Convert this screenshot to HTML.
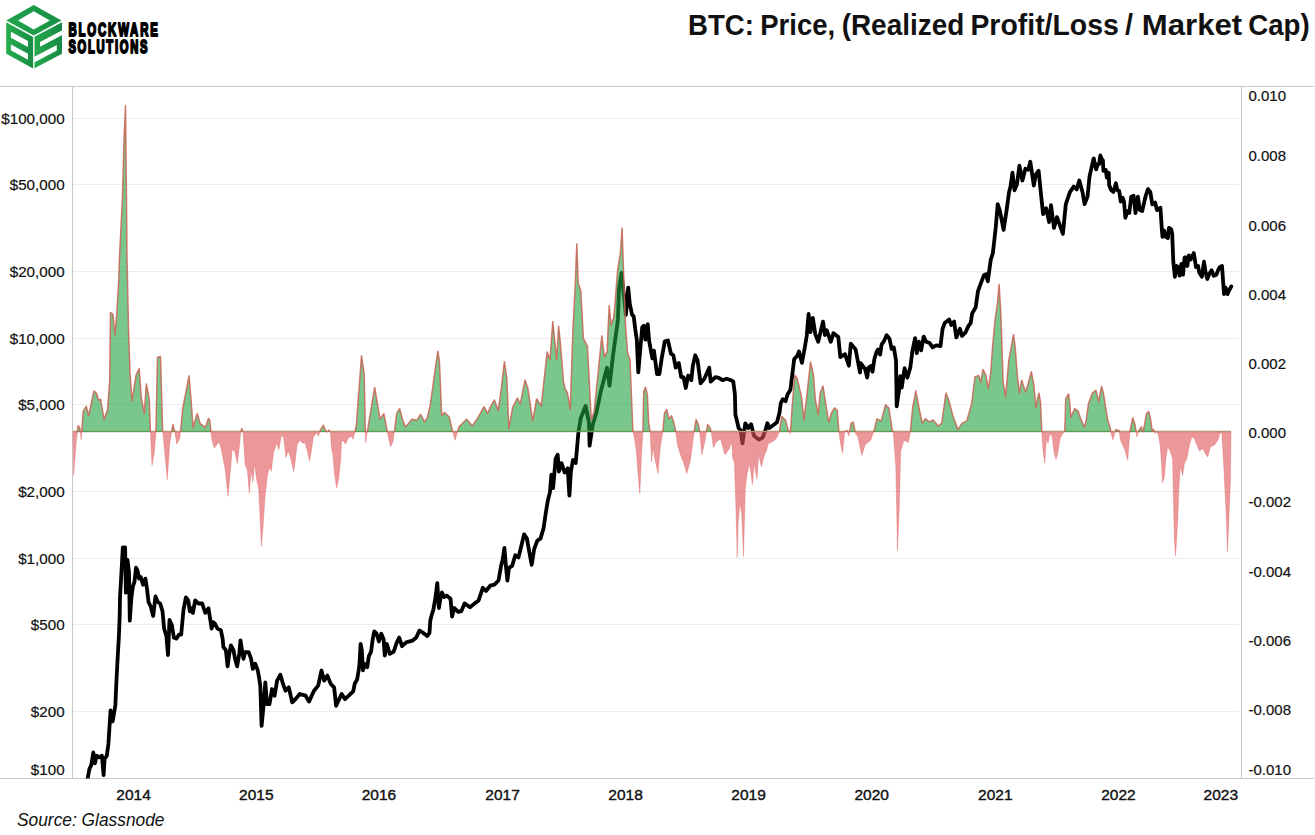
<!DOCTYPE html>
<html><head><meta charset="utf-8"><title>BTC: Price, (Realized Profit/Loss / Market Cap)</title>
<style>html,body{margin:0;padding:0;background:#fff;width:1315px;height:835px;overflow:hidden}svg{display:block}</style>
</head><body>
<svg width="1315" height="835" viewBox="0 0 1315 835">
<defs>
<clipPath id="plot"><rect x="72.5" y="86.5" width="1169.0" height="692.0"/></clipPath>
<clipPath id="pos"><rect x="0" y="0" width="1315" height="432.0"/></clipPath>
<clipPath id="neg"><rect x="0" y="432.0" width="1315" height="403.0"/></clipPath>
<linearGradient id="gl" x1="6" y1="0" x2="33" y2="0" gradientUnits="userSpaceOnUse"><stop offset="0" stop-color="#27ae4f"/><stop offset="1" stop-color="#178c44"/></linearGradient>
<linearGradient id="gr" x1="34" y1="0" x2="62" y2="0" gradientUnits="userSpaceOnUse"><stop offset="0" stop-color="#24aa4d"/><stop offset="1" stop-color="#168a44"/></linearGradient>
<linearGradient id="gt" x1="6" y1="35" x2="61" y2="5" gradientUnits="userSpaceOnUse"><stop offset="0" stop-color="#22a54c"/><stop offset="1" stop-color="#178f46"/></linearGradient>
</defs>
<g>
<path fill="url(#gt)" fill-rule="evenodd" d="M33.7,4.9 L61.5,20.6 L33.7,35.4 L6.3,20.6 Z M33.7,11.2 L49.9,20.6 L33.7,29.6 L18,20.6 Z"/>
<path fill="url(#gl)" fill-rule="evenodd" d="M6.20,22.20 L33.10,36.90 L33.10,68.50 L6.20,53.80 Z M10.91,31.77 L27.99,41.11 L27.99,47.11 L10.91,37.77 Z M10.91,44.47 L27.99,53.81 L27.99,59.71 L10.91,50.37 Z"/>
<path fill="url(#gr)" d="M34.50,36.70 L62.00,22.21 L62.00,53.81 L34.50,68.30 Z"/>
<path fill="#fff" d="M40.00,41.90 L62.27,30.16 L62.27,35.06 L40.00,46.80 Z M34.23,56.84 L56.78,44.96 L56.78,50.56 L34.23,62.44 Z"/>
</g>
<g font-family="Liberation Sans" font-weight="bold" fill="#000" stroke="#000" stroke-width="2" stroke-linejoin="round">
<text transform="translate(68.4,36.2) scale(0.6,1)" font-size="19" letter-spacing="3.08">BLOCKWARE</text>
<text transform="translate(68.4,52.9) scale(0.59,1)" font-size="19" letter-spacing="2.9">SOLUTIONS</text>
</g>
<g font-family="Liberation Sans" font-weight="bold" font-size="30" fill="#111">
<text transform="translate(688.06,35.4) scale(0.9194,1)">BTC:</text>
<text transform="translate(760.27,35.4) scale(0.9167,1)">Price,</text>
<text transform="translate(841.64,35.4) scale(0.9313,1)">(Realized</text>
<text transform="translate(970.41,35.4) scale(0.9474,1)">Profit/Loss</text>
<text transform="translate(1125.10,35.4) scale(0.9625,1)">/</text>
<text transform="translate(1141.83,35.4) scale(1.0372,1)">Market</text>
<text transform="translate(1248.18,35.4) scale(0.9234,1)">Cap)</text>
</g>
<line x1="72.5" x2="1239.6" y1="118.5" y2="118.5" stroke="#ececec" stroke-width="1"/>
<line x1="72.5" x2="1239.6" y1="184.5" y2="184.5" stroke="#ececec" stroke-width="1"/>
<line x1="72.5" x2="1239.6" y1="271.5" y2="271.5" stroke="#ececec" stroke-width="1"/>
<line x1="72.5" x2="1239.6" y1="338.5" y2="338.5" stroke="#ececec" stroke-width="1"/>
<line x1="72.5" x2="1239.6" y1="404.5" y2="404.5" stroke="#ececec" stroke-width="1"/>
<line x1="72.5" x2="1239.6" y1="491.5" y2="491.5" stroke="#ececec" stroke-width="1"/>
<line x1="72.5" x2="1239.6" y1="558.5" y2="558.5" stroke="#ececec" stroke-width="1"/>
<line x1="72.5" x2="1239.6" y1="624.5" y2="624.5" stroke="#ececec" stroke-width="1"/>
<line x1="72.5" x2="1239.6" y1="711.5" y2="711.5" stroke="#ececec" stroke-width="1"/>
<line x1="0" x2="1314" y1="86.5" y2="86.5" stroke="#c8c8c8" stroke-width="1"/>
<line x1="0" x2="1314" y1="778.5" y2="778.5" stroke="#c8c8c8" stroke-width="1"/>
<line x1="72.5" x2="72.5" y1="86.5" y2="778.5" stroke="#c8c8c8" stroke-width="1"/>
<line x1="1241.5" x2="1241.5" y1="86.5" y2="778.5" stroke="#c8c8c8" stroke-width="1"/>
<g clip-path="url(#plot)"><path d="M84.0,800.0 L87.9,777.3 L89.5,768.7 L91.2,765.4 L93.3,752.5 L94.9,763.3 L96.6,755.7 L99.2,757.3 L101.9,755.7 L103.6,775.1 L104.6,759.0 L106.8,755.7 L108.4,743.9 L110.0,719.1 L110.6,710.5 L112.7,721.3 L114.3,711.6 L115.4,705.1 L116.0,690.0 L117.3,664.3 L118.9,636.2 L119.7,616.0 L120.0,597.3 L121.2,577.0 L122.8,547.5 L125.1,547.5 L125.9,592.6 L127.5,560.0 L129.0,572.4 L129.8,620.7 L131.4,597.3 L132.9,586.4 L134.5,581.7 L136.0,567.7 L137.6,570.8 L139.1,578.6 L140.7,577.0 L143.0,584.8 L145.4,578.6 L146.9,588.0 L148.5,602.0 L150.8,606.7 L153.2,616.0 L155.5,596.5 L157.8,602.0 L160.2,603.5 L162.5,611.3 L164.1,628.5 L166.4,636.2 L168.0,655.0 L169.5,619.9 L171.9,625.3 L173.9,637.8 L176.5,638.6 L178.9,634.7 L181.2,634.7 L183.5,609.8 L185.9,597.3 L188.2,600.4 L189.8,611.3 L191.3,608.2 L192.9,612.9 L195.2,600.4 L198.3,603.5 L202.2,603.5 L205.3,612.9 L208.5,608.2 L211.6,628.5 L213.1,622.2 L215.0,623.8 L217.5,628.6 L220.9,630.3 L222.6,638.7 L223.4,647.0 L225.9,650.4 L227.6,666.3 L229.3,653.8 L230.9,645.4 L233.5,650.4 L235.1,658.8 L237.1,666.3 L239.3,653.8 L240.5,640.3 L241.8,648.7 L243.5,658.8 L245.2,652.1 L248.6,652.1 L251.1,658.8 L252.8,668.9 L255.3,663.8 L257.8,670.5 L259.0,677.2 L260.3,685.6 L261.6,725.9 L263.7,704.1 L265.3,682.3 L267.0,704.1 L269.5,704.1 L272.0,689.0 L274.6,695.7 L277.1,680.6 L280.4,674.7 L283.0,684.0 L285.5,690.7 L288.8,687.3 L292.2,702.4 L295.5,699.1 L299.7,694.0 L305.6,695.7 L309.0,701.6 L314.0,690.7 L318.2,685.6 L321.5,670.5 L324.1,680.6 L327.4,675.6 L330.8,684.0 L334.1,687.3 L336.1,705.8 L339.2,699.1 L341.7,694.0 L345.0,699.1 L349.3,695.2 L353.2,691.3 L354.8,683.5 L357.1,679.6 L358.7,670.3 L359.5,664.1 L360.6,643.8 L361.8,650.0 L363.0,670.3 L364.9,664.1 L367.2,667.2 L368.8,656.3 L371.1,651.6 L372.7,639.2 L374.3,631.4 L376.6,633.7 L378.9,641.5 L381.3,633.7 L383.6,639.2 L384.8,655.5 L386.7,643.8 L389.8,653.9 L393.7,651.6 L396.8,642.3 L399.2,637.6 L402.0,646.2 L406.2,642.3 L412.4,640.7 L416.3,637.6 L419.4,630.6 L423.3,632.9 L427.2,636.0 L429.5,632.9 L430.3,620.5 L431.9,614.3 L433.4,609.6 L435.3,598.7 L437.3,583.1 L438.9,608.0 L440.4,598.7 L442.0,592.5 L444.0,597.1 L446.6,595.6 L450.5,598.7 L452.1,616.6 L454.4,608.0 L458.3,611.9 L461.4,611.1 L464.6,603.4 L470.0,607.2 L474.4,603.6 L478.6,600.4 L482.8,587.8 L486.0,591.0 L490.2,585.7 L494.4,584.7 L498.5,580.5 L501.1,565.8 L502.7,559.5 L504.4,548.0 L505.9,565.8 L507.4,580.5 L509.0,567.9 L512.2,565.8 L515.3,555.3 L518.5,557.4 L521.6,544.8 L524.1,534.4 L526.9,538.6 L529.0,550.1 L531.7,564.8 L534.2,549.0 L537.3,540.6 L540.5,538.6 L543.6,528.1 L545.7,513.4 L547.8,500.8 L549.9,492.4 L551.4,474.6 L553.1,488.2 L555.6,458.9 L557.7,454.7 L558.9,471.5 L561.5,463.1 L564.6,472.5 L567.7,468.3 L569.4,495.6 L570.9,471.5 L573.0,459.9 L575.7,463.1 L578.4,432.4 L580.8,418.0 L585.6,406.0 L589.0,422.8 L589.6,445.6 L592.7,425.0 L596.3,413.0 L601.0,390.5 L607.0,367.8 L609.5,385.7 L613.0,355.8 L617.9,319.9 L619.0,288.7 L621.5,273.0 L625.9,314.8 L628.2,287.6 L629.8,303.9 L632.1,314.8 L633.7,316.4 L635.2,328.8 L636.8,339.7 L638.3,372.4 L639.9,353.7 L642.2,327.3 L643.8,325.7 L645.4,339.7 L647.7,324.2 L649.2,341.3 L652.4,358.4 L653.9,350.6 L657.0,374.0 L659.4,374.0 L661.7,358.4 L664.8,341.3 L667.9,340.5 L671.0,353.7 L673.4,355.3 L675.7,367.7 L678.8,363.1 L681.2,377.1 L683.5,377.1 L685.8,388.0 L688.2,375.5 L691.3,380.2 L692.8,366.2 L695.2,355.3 L697.5,360.0 L700.6,383.3 L704.5,378.6 L709.2,367.7 L710.7,381.7 L715.4,377.1 L718.9,377.9 L722.4,380.2 L726.7,378.7 L731.0,380.2 L733.3,381.7 L734.9,394.2 L735.4,414.6 L737.3,422.3 L738.6,428.1 L740.5,430.0 L742.5,443.4 L745.3,423.3 L748.2,428.1 L751.1,424.2 L754.0,435.7 L758.8,439.6 L762.6,437.6 L765.5,430.0 L767.4,423.3 L769.3,428.1 L773.1,425.2 L777.0,422.3 L779.5,412.7 L780.8,403.1 L782.7,399.3 L785.6,401.2 L787.5,394.5 L790.4,389.7 L792.3,374.4 L794.2,359.0 L797.1,356.2 L799.0,351.4 L801.9,362.9 L804.8,347.5 L806.7,336.0 L808.6,314.0 L810.5,332.2 L812.8,317.8 L815.3,334.1 L818.2,341.8 L823.0,321.6 L824.9,335.1 L826.8,330.3 L830.7,341.8 L833.5,333.1 L838.3,337.0 L840.3,357.1 L845.0,354.2 L848.9,365.7 L850.8,343.7 L855.6,349.4 L860.0,372.5 L860.7,363.2 L862.9,366.1 L865.1,369.0 L867.2,377.6 L868.6,367.5 L870.8,366.1 L872.5,371.8 L874.4,358.9 L876.6,351.7 L878.0,349.6 L880.1,354.6 L881.6,344.5 L883.7,341.7 L886.6,335.2 L889.5,338.8 L891.6,348.9 L893.8,347.4 L896.0,360.3 L896.7,406.3 L898.8,392.0 L900.3,376.1 L901.7,387.6 L904.6,368.2 L907.4,377.6 L910.3,367.5 L912.5,350.3 L915.1,338.1 L916.8,353.2 L918.9,341.7 L921.1,350.3 L923.7,336.6 L926.1,341.7 L929.7,343.1 L932.6,347.4 L936.2,345.3 L940.5,346.0 L942.6,328.7 L944.8,323.0 L949.1,319.4 L951.3,325.1 L954.1,321.6 L956.3,337.4 L959.9,328.7 L962.0,335.9 L965.6,332.3 L968.5,325.9 L970.7,323.0 L972.1,313.6 L975.7,307.2 L978.0,291.1 L980.9,283.2 L983.9,275.3 L985.9,274.3 L987.8,281.3 L990.8,259.5 L992.8,253.6 L995.7,227.9 L997.7,204.2 L999.7,210.2 L1001.7,220.0 L1003.6,229.9 L1006.6,210.2 L1009.0,192.4 L1010.5,186.5 L1012.5,172.6 L1014.5,190.4 L1016.9,184.5 L1019.4,165.7 L1022.4,180.5 L1025.4,168.7 L1028.3,169.7 L1030.3,161.8 L1033.8,185.5 L1035.8,174.6 L1038.6,170.7 L1041.2,196.3 L1043.1,214.1 L1046.1,208.2 L1049.1,222.0 L1051.0,205.2 L1054.0,227.9 L1057.0,217.1 L1062.9,233.9 L1065.8,204.2 L1069.8,192.4 L1073.7,186.5 L1076.7,189.4 L1079.3,180.5 L1082.6,192.4 L1084.6,204.2 L1087.6,196.3 L1089.5,176.6 L1093.5,158.8 L1093.8,158.4 L1094.8,164.2 L1096.2,169.4 L1097.7,164.2 L1099.1,164.2 L1100.3,155.5 L1102.0,159.4 L1102.9,160.3 L1103.4,170.9 L1105.8,169.9 L1106.8,177.6 L1108.7,172.8 L1109.2,185.2 L1111.1,190.0 L1113.5,191.9 L1115.9,183.3 L1117.3,190.0 L1119.2,191.0 L1120.7,201.5 L1122.6,197.7 L1124.0,201.5 L1125.4,217.8 L1127.4,211.1 L1129.3,213.0 L1131.2,196.7 L1133.6,195.8 L1135.5,213.0 L1137.9,196.7 L1139.8,210.1 L1142.2,211.1 L1144.1,202.5 L1146.0,194.8 L1148.0,189.1 L1150.3,191.9 L1152.3,204.4 L1155.1,202.5 L1157.0,210.1 L1160.4,207.7 L1162.0,231.6 L1162.5,236.9 L1164.2,230.5 L1165.8,236.9 L1167.9,238.0 L1169.0,227.8 L1171.2,229.4 L1172.2,233.7 L1173.3,261.7 L1174.9,276.8 L1176.6,266.0 L1178.2,267.1 L1179.6,275.7 L1181.4,263.9 L1183.0,274.7 L1184.6,257.4 L1186.3,257.4 L1187.3,266.0 L1188.9,255.3 L1190.6,259.6 L1193.8,253.1 L1196.0,267.1 L1198.1,266.0 L1199.2,272.5 L1201.9,276.8 L1204.0,261.7 L1205.6,272.5 L1207.3,279.0 L1209.4,273.6 L1211.6,270.3 L1213.7,275.7 L1216.4,274.7 L1218.0,270.3 L1219.7,267.1 L1222.0,266.0 L1223.4,285.4 L1224.0,294.1 L1225.6,287.6 L1227.4,294.1 L1229.4,289.7 L1231.3,286.5" fill="none" stroke="#000" stroke-width="3.8" stroke-linejoin="round" stroke-linecap="round"/></g>
<line x1="73" x2="1231" y1="431.5" y2="431.5" stroke="rgb(185,150,120)" stroke-width="1.3"/>
<path d="M73.0,431.8 L73.6,475.5 L76.0,444.0 L78.1,425.7 L79.7,427.7 L81.2,440.0 L83.2,411.4 L86.2,406.3 L88.7,415.5 L94.0,391.0 L96.4,393.0 L98.5,400.2 L100.5,399.2 L104.2,419.6 L107.6,409.4 L109.7,380.9 L110.5,312.7 L112.9,314.2 L115.0,335.0 L116.5,317.0 L118.6,284.0 L119.5,257.0 L122.5,197.0 L124.0,140.0 L125.5,105.5 L126.4,191.0 L127.0,257.0 L128.5,329.0 L130.0,372.7 L132.0,401.2 L136.1,374.8 L139.2,368.7 L141.2,397.2 L144.3,413.5 L146.3,384.0 L149.3,399.2 L150.4,431.8 L152.0,465.4 L154.4,452.1 L155.9,431.8 L157.5,357.5 L160.5,356.5 L162.6,429.7 L167.3,479.6 L169.7,444.0 L172.8,424.6 L174.8,431.8 L176.8,444.0 L179.9,437.9 L182.9,407.3 L186.0,392.0 L189.0,375.8 L191.0,399.2 L193.1,427.7 L197.2,413.5 L200.2,423.6 L205.3,427.7 L208.4,418.5 L209.7,420.0 L210.9,431.7 L212.0,440.2 L214.3,448.0 L216.7,444.9 L219.0,441.8 L220.6,446.5 L222.9,457.4 L225.2,469.8 L228.0,496.3 L229.9,476.0 L232.2,449.6 L234.6,451.1 L237.4,463.6 L239.2,448.0 L240.5,434.0 L241.7,428.6 L243.1,432.5 L245.2,465.1 L247.3,469.8 L249.4,493.2 L250.9,469.8 L252.9,482.3 L254.5,463.6 L257.1,482.3 L258.7,488.5 L261.4,546.1 L262.9,529.0 L264.9,497.8 L267.3,476.0 L269.6,466.7 L271.2,471.4 L273.5,452.7 L276.6,443.3 L278.9,449.6 L281.3,435.6 L283.6,437.1 L285.9,457.4 L288.3,451.1 L290.0,455.8 L291.2,460.2 L293.6,471.7 L295.1,462.2 L297.0,444.9 L299.9,440.1 L302.2,443.0 L305.1,443.0 L307.5,451.6 L309.4,461.2 L311.4,450.7 L313.3,437.2 L316.6,432.5 L318.5,436.3 L320.5,429.6 L323.3,425.3 L325.2,429.6 L327.2,432.5 L328.9,430.1 L330.5,432.5 L331.5,448.7 L332.9,454.5 L334.4,472.7 L336.7,488.0 L338.7,478.5 L340.6,460.2 L341.5,441.1 L343.5,441.1 L345.4,444.0 L348.2,438.2 L351.1,436.3 L353.0,439.2 L355.0,431.7 L356.4,424.8 L361.5,355.8 L364.2,374.3 L365.5,442.8 L369.4,419.0 L374.7,387.4 L380.0,419.0 L383.9,413.8 L387.9,434.9 L390.5,446.7 L392.9,442.2 L394.8,428.8 L396.7,413.4 L399.6,408.7 L402.5,419.2 L405.3,426.9 L408.2,424.0 L412.0,419.2 L416.8,420.2 L420.7,414.4 L424.5,422.0 L427.4,417.3 L430.2,405.8 L433.1,384.7 L436.0,363.6 L437.9,351.2 L439.4,361.7 L441.7,415.4 L444.6,412.5 L449.4,417.3 L452.3,430.7 L455.1,440.3 L459.0,426.9 L466.6,419.2 L472.4,425.9 L478.1,417.3 L483.9,406.7 L487.7,413.4 L491.5,404.8 L494.4,400.0 L498.2,410.6 L501.1,390.5 L504.4,361.7 L506.9,379.0 L508.8,428.8 L512.6,407.7 L517.4,398.1 L520.3,403.9 L525.0,380.0 L527.9,388.5 L532.7,421.1 L536.6,399.0 L541.3,405.8 L547.1,352.1 L550.0,359.8 L552.8,321.5 L556.7,359.8 L558.6,326.3 L560.5,344.5 L563.4,380.9 L565.0,388.4 L567.6,393.7 L570.3,409.5 L572.9,330.5 L575.0,291.0 L576.8,243.7 L578.2,283.0 L580.8,291.0 L583.4,338.4 L587.4,346.3 L591.3,420.0 L594.0,412.0 L597.9,375.3 L601.8,335.8 L604.5,356.8 L607.1,351.6 L609.2,305.5 L611.0,325.3 L613.7,317.4 L615.0,304.2 L617.6,270.0 L620.3,254.2 L622.1,227.9 L623.4,267.4 L625.5,325.3 L627.5,352.5 L630.0,360.0 L632.9,431.5 L634.3,437.5 L636.5,451.9 L637.9,472.0 L639.8,493.6 L641.5,454.8 L642.9,431.5 L643.7,391.5 L645.5,387.2 L647.3,394.4 L648.7,423.1 L650.1,431.5 L651.6,462.0 L653.0,447.6 L655.2,460.5 L658.0,473.5 L660.2,447.6 L662.8,431.5 L664.5,413.1 L666.7,409.5 L668.8,418.8 L671.7,415.9 L673.9,423.1 L675.7,431.5 L677.4,444.7 L681.0,456.2 L683.9,463.4 L686.8,473.5 L690.4,460.5 L693.3,437.5 L696.1,419.5 L698.3,424.6 L699.7,431.5 L701.9,454.8 L704.8,441.8 L707.6,424.6 L709.8,427.4 L711.2,431.5 L713.4,447.6 L716.3,441.8 L720.6,439.0 L724.9,454.8 L729.2,449.0 L731.8,441.5 L732.7,457.7 L734.5,463.1 L736.3,520.5 L737.2,557.3 L738.1,524.1 L739.9,502.6 L741.7,513.3 L743.5,556.4 L745.3,488.2 L747.1,473.9 L749.7,463.1 L752.4,484.6 L754.2,463.1 L756.9,479.2 L758.7,454.1 L761.4,466.7 L764.1,455.9 L765.9,452.3 L768.6,443.3 L773.1,441.5 L776.7,438.0 L779.4,431.7 L781.8,416.6 L785.6,420.4 L787.5,428.1 L790.4,433.8 L792.3,405.0 L794.8,375.3 L797.1,378.2 L799.0,385.9 L801.9,399.3 L803.8,420.4 L806.7,397.4 L810.5,361.9 L813.4,374.4 L815.3,399.3 L818.2,414.6 L820.1,393.5 L823.0,385.9 L825.9,405.0 L828.8,422.3 L831.6,412.7 L834.5,407.9 L837.2,410.2 L838.9,431.7 L840.4,442.5 L842.5,453.3 L844.7,431.7 L846.9,430.6 L849.0,436.0 L851.2,423.1 L853.3,422.0 L855.5,433.9 L857.6,436.0 L861.9,455.4 L865.2,444.7 L870.6,440.3 L873.8,431.7 L877.0,418.8 L881.3,420.9 L885.6,404.8 L888.9,408.0 L892.1,429.6 L893.2,431.7 L895.8,466.2 L897.5,550.3 L899.2,509.3 L900.7,451.1 L904.0,440.3 L908.3,442.5 L910.4,431.7 L912.6,408.0 L915.8,390.8 L919.0,408.0 L922.3,423.1 L925.5,418.8 L929.8,422.0 L933.1,419.9 L938.4,426.3 L941.7,423.1 L946.0,392.9 L949.2,401.6 L952.5,414.5 L957.8,429.6 L962.0,423.3 L966.8,420.9 L971.6,404.0 L975.1,376.6 L978.7,375.4 L980.7,382.5 L983.0,369.4 L985.9,375.4 L988.3,388.5 L990.7,373.0 L992.6,346.6 L995.0,320.3 L997.4,303.5 L999.1,284.4 L1000.8,313.1 L1003.2,382.5 L1005.6,396.9 L1008.7,361.0 L1011.8,344.2 L1013.5,334.7 L1015.1,346.6 L1017.5,377.8 L1019.4,393.3 L1021.8,380.2 L1025.4,392.1 L1027.8,385.0 L1031.4,371.8 L1033.8,385.0 L1036.1,408.0 L1037.8,397.7 L1039.0,393.2 L1040.5,402.3 L1041.8,431.5 L1043.0,450.1 L1044.7,463.1 L1046.4,438.7 L1048.1,443.2 L1049.8,433.6 L1052.1,436.4 L1054.3,453.5 L1056.0,459.2 L1057.7,453.5 L1060.0,438.7 L1062.9,433.0 L1064.8,431.5 L1065.7,398.9 L1068.6,393.8 L1069.7,402.3 L1070.8,417.1 L1074.8,408.6 L1078.2,411.4 L1080.5,418.2 L1084.5,427.3 L1086.2,420.5 L1088.5,403.4 L1092.4,393.2 L1095.9,390.4 L1098.7,401.7 L1101.5,386.4 L1103.2,392.1 L1105.5,406.8 L1107.8,420.5 L1110.1,427.3 L1111.2,434.1 L1112.9,439.8 L1115.8,429.6 L1119.2,430.7 L1120.3,439.8 L1124.9,450.1 L1127.7,460.3 L1130.0,431.5 L1132.8,417.7 L1135.1,425.0 L1136.8,437.0 L1138.5,431.5 L1141.3,426.8 L1143.1,432.4 L1146.5,413.7 L1148.7,411.4 L1150.4,418.2 L1152.2,431.5 L1153.4,429.2 L1155.0,433.4 L1156.7,431.7 L1158.4,435.1 L1160.1,445.1 L1161.4,461.9 L1162.6,482.9 L1164.3,477.0 L1165.9,458.6 L1167.6,446.8 L1170.1,451.0 L1172.6,458.6 L1174.3,537.4 L1175.5,555.8 L1177.7,520.6 L1178.8,490.4 L1180.2,466.9 L1182.7,475.3 L1184.4,463.6 L1186.9,458.6 L1189.4,445.1 L1191.9,436.8 L1194.4,438.4 L1196.9,445.1 L1199.5,451.0 L1202.8,448.5 L1205.3,453.5 L1207.8,456.9 L1210.4,446.8 L1214.5,445.1 L1217.9,440.1 L1219.6,434.3 L1221.8,431.7 L1223.8,466.9 L1226.3,515.6 L1227.5,551.6 L1228.8,520.6 L1230.5,478.7 L1231.0,431.7 L1231.0,432.0 L73.0,432.0 Z" fill="rgba(33,161,65,0.6)" clip-path="url(#pos)"/>
<path d="M73.0,431.8 L73.6,475.5 L76.0,444.0 L78.1,425.7 L79.7,427.7 L81.2,440.0 L83.2,411.4 L86.2,406.3 L88.7,415.5 L94.0,391.0 L96.4,393.0 L98.5,400.2 L100.5,399.2 L104.2,419.6 L107.6,409.4 L109.7,380.9 L110.5,312.7 L112.9,314.2 L115.0,335.0 L116.5,317.0 L118.6,284.0 L119.5,257.0 L122.5,197.0 L124.0,140.0 L125.5,105.5 L126.4,191.0 L127.0,257.0 L128.5,329.0 L130.0,372.7 L132.0,401.2 L136.1,374.8 L139.2,368.7 L141.2,397.2 L144.3,413.5 L146.3,384.0 L149.3,399.2 L150.4,431.8 L152.0,465.4 L154.4,452.1 L155.9,431.8 L157.5,357.5 L160.5,356.5 L162.6,429.7 L167.3,479.6 L169.7,444.0 L172.8,424.6 L174.8,431.8 L176.8,444.0 L179.9,437.9 L182.9,407.3 L186.0,392.0 L189.0,375.8 L191.0,399.2 L193.1,427.7 L197.2,413.5 L200.2,423.6 L205.3,427.7 L208.4,418.5 L209.7,420.0 L210.9,431.7 L212.0,440.2 L214.3,448.0 L216.7,444.9 L219.0,441.8 L220.6,446.5 L222.9,457.4 L225.2,469.8 L228.0,496.3 L229.9,476.0 L232.2,449.6 L234.6,451.1 L237.4,463.6 L239.2,448.0 L240.5,434.0 L241.7,428.6 L243.1,432.5 L245.2,465.1 L247.3,469.8 L249.4,493.2 L250.9,469.8 L252.9,482.3 L254.5,463.6 L257.1,482.3 L258.7,488.5 L261.4,546.1 L262.9,529.0 L264.9,497.8 L267.3,476.0 L269.6,466.7 L271.2,471.4 L273.5,452.7 L276.6,443.3 L278.9,449.6 L281.3,435.6 L283.6,437.1 L285.9,457.4 L288.3,451.1 L290.0,455.8 L291.2,460.2 L293.6,471.7 L295.1,462.2 L297.0,444.9 L299.9,440.1 L302.2,443.0 L305.1,443.0 L307.5,451.6 L309.4,461.2 L311.4,450.7 L313.3,437.2 L316.6,432.5 L318.5,436.3 L320.5,429.6 L323.3,425.3 L325.2,429.6 L327.2,432.5 L328.9,430.1 L330.5,432.5 L331.5,448.7 L332.9,454.5 L334.4,472.7 L336.7,488.0 L338.7,478.5 L340.6,460.2 L341.5,441.1 L343.5,441.1 L345.4,444.0 L348.2,438.2 L351.1,436.3 L353.0,439.2 L355.0,431.7 L356.4,424.8 L361.5,355.8 L364.2,374.3 L365.5,442.8 L369.4,419.0 L374.7,387.4 L380.0,419.0 L383.9,413.8 L387.9,434.9 L390.5,446.7 L392.9,442.2 L394.8,428.8 L396.7,413.4 L399.6,408.7 L402.5,419.2 L405.3,426.9 L408.2,424.0 L412.0,419.2 L416.8,420.2 L420.7,414.4 L424.5,422.0 L427.4,417.3 L430.2,405.8 L433.1,384.7 L436.0,363.6 L437.9,351.2 L439.4,361.7 L441.7,415.4 L444.6,412.5 L449.4,417.3 L452.3,430.7 L455.1,440.3 L459.0,426.9 L466.6,419.2 L472.4,425.9 L478.1,417.3 L483.9,406.7 L487.7,413.4 L491.5,404.8 L494.4,400.0 L498.2,410.6 L501.1,390.5 L504.4,361.7 L506.9,379.0 L508.8,428.8 L512.6,407.7 L517.4,398.1 L520.3,403.9 L525.0,380.0 L527.9,388.5 L532.7,421.1 L536.6,399.0 L541.3,405.8 L547.1,352.1 L550.0,359.8 L552.8,321.5 L556.7,359.8 L558.6,326.3 L560.5,344.5 L563.4,380.9 L565.0,388.4 L567.6,393.7 L570.3,409.5 L572.9,330.5 L575.0,291.0 L576.8,243.7 L578.2,283.0 L580.8,291.0 L583.4,338.4 L587.4,346.3 L591.3,420.0 L594.0,412.0 L597.9,375.3 L601.8,335.8 L604.5,356.8 L607.1,351.6 L609.2,305.5 L611.0,325.3 L613.7,317.4 L615.0,304.2 L617.6,270.0 L620.3,254.2 L622.1,227.9 L623.4,267.4 L625.5,325.3 L627.5,352.5 L630.0,360.0 L632.9,431.5 L634.3,437.5 L636.5,451.9 L637.9,472.0 L639.8,493.6 L641.5,454.8 L642.9,431.5 L643.7,391.5 L645.5,387.2 L647.3,394.4 L648.7,423.1 L650.1,431.5 L651.6,462.0 L653.0,447.6 L655.2,460.5 L658.0,473.5 L660.2,447.6 L662.8,431.5 L664.5,413.1 L666.7,409.5 L668.8,418.8 L671.7,415.9 L673.9,423.1 L675.7,431.5 L677.4,444.7 L681.0,456.2 L683.9,463.4 L686.8,473.5 L690.4,460.5 L693.3,437.5 L696.1,419.5 L698.3,424.6 L699.7,431.5 L701.9,454.8 L704.8,441.8 L707.6,424.6 L709.8,427.4 L711.2,431.5 L713.4,447.6 L716.3,441.8 L720.6,439.0 L724.9,454.8 L729.2,449.0 L731.8,441.5 L732.7,457.7 L734.5,463.1 L736.3,520.5 L737.2,557.3 L738.1,524.1 L739.9,502.6 L741.7,513.3 L743.5,556.4 L745.3,488.2 L747.1,473.9 L749.7,463.1 L752.4,484.6 L754.2,463.1 L756.9,479.2 L758.7,454.1 L761.4,466.7 L764.1,455.9 L765.9,452.3 L768.6,443.3 L773.1,441.5 L776.7,438.0 L779.4,431.7 L781.8,416.6 L785.6,420.4 L787.5,428.1 L790.4,433.8 L792.3,405.0 L794.8,375.3 L797.1,378.2 L799.0,385.9 L801.9,399.3 L803.8,420.4 L806.7,397.4 L810.5,361.9 L813.4,374.4 L815.3,399.3 L818.2,414.6 L820.1,393.5 L823.0,385.9 L825.9,405.0 L828.8,422.3 L831.6,412.7 L834.5,407.9 L837.2,410.2 L838.9,431.7 L840.4,442.5 L842.5,453.3 L844.7,431.7 L846.9,430.6 L849.0,436.0 L851.2,423.1 L853.3,422.0 L855.5,433.9 L857.6,436.0 L861.9,455.4 L865.2,444.7 L870.6,440.3 L873.8,431.7 L877.0,418.8 L881.3,420.9 L885.6,404.8 L888.9,408.0 L892.1,429.6 L893.2,431.7 L895.8,466.2 L897.5,550.3 L899.2,509.3 L900.7,451.1 L904.0,440.3 L908.3,442.5 L910.4,431.7 L912.6,408.0 L915.8,390.8 L919.0,408.0 L922.3,423.1 L925.5,418.8 L929.8,422.0 L933.1,419.9 L938.4,426.3 L941.7,423.1 L946.0,392.9 L949.2,401.6 L952.5,414.5 L957.8,429.6 L962.0,423.3 L966.8,420.9 L971.6,404.0 L975.1,376.6 L978.7,375.4 L980.7,382.5 L983.0,369.4 L985.9,375.4 L988.3,388.5 L990.7,373.0 L992.6,346.6 L995.0,320.3 L997.4,303.5 L999.1,284.4 L1000.8,313.1 L1003.2,382.5 L1005.6,396.9 L1008.7,361.0 L1011.8,344.2 L1013.5,334.7 L1015.1,346.6 L1017.5,377.8 L1019.4,393.3 L1021.8,380.2 L1025.4,392.1 L1027.8,385.0 L1031.4,371.8 L1033.8,385.0 L1036.1,408.0 L1037.8,397.7 L1039.0,393.2 L1040.5,402.3 L1041.8,431.5 L1043.0,450.1 L1044.7,463.1 L1046.4,438.7 L1048.1,443.2 L1049.8,433.6 L1052.1,436.4 L1054.3,453.5 L1056.0,459.2 L1057.7,453.5 L1060.0,438.7 L1062.9,433.0 L1064.8,431.5 L1065.7,398.9 L1068.6,393.8 L1069.7,402.3 L1070.8,417.1 L1074.8,408.6 L1078.2,411.4 L1080.5,418.2 L1084.5,427.3 L1086.2,420.5 L1088.5,403.4 L1092.4,393.2 L1095.9,390.4 L1098.7,401.7 L1101.5,386.4 L1103.2,392.1 L1105.5,406.8 L1107.8,420.5 L1110.1,427.3 L1111.2,434.1 L1112.9,439.8 L1115.8,429.6 L1119.2,430.7 L1120.3,439.8 L1124.9,450.1 L1127.7,460.3 L1130.0,431.5 L1132.8,417.7 L1135.1,425.0 L1136.8,437.0 L1138.5,431.5 L1141.3,426.8 L1143.1,432.4 L1146.5,413.7 L1148.7,411.4 L1150.4,418.2 L1152.2,431.5 L1153.4,429.2 L1155.0,433.4 L1156.7,431.7 L1158.4,435.1 L1160.1,445.1 L1161.4,461.9 L1162.6,482.9 L1164.3,477.0 L1165.9,458.6 L1167.6,446.8 L1170.1,451.0 L1172.6,458.6 L1174.3,537.4 L1175.5,555.8 L1177.7,520.6 L1178.8,490.4 L1180.2,466.9 L1182.7,475.3 L1184.4,463.6 L1186.9,458.6 L1189.4,445.1 L1191.9,436.8 L1194.4,438.4 L1196.9,445.1 L1199.5,451.0 L1202.8,448.5 L1205.3,453.5 L1207.8,456.9 L1210.4,446.8 L1214.5,445.1 L1217.9,440.1 L1219.6,434.3 L1221.8,431.7 L1223.8,466.9 L1226.3,515.6 L1227.5,551.6 L1228.8,520.6 L1230.5,478.7 L1231.0,431.7 L1231.0,432.0 L73.0,432.0 Z" fill="rgba(224,82,85,0.6)" clip-path="url(#neg)"/>
<path d="M73.0,431.8 L73.6,475.5 L76.0,444.0 L78.1,425.7 L79.7,427.7 L81.2,440.0 L83.2,411.4 L86.2,406.3 L88.7,415.5 L94.0,391.0 L96.4,393.0 L98.5,400.2 L100.5,399.2 L104.2,419.6 L107.6,409.4 L109.7,380.9 L110.5,312.7 L112.9,314.2 L115.0,335.0 L116.5,317.0 L118.6,284.0 L119.5,257.0 L122.5,197.0 L124.0,140.0 L125.5,105.5 L126.4,191.0 L127.0,257.0 L128.5,329.0 L130.0,372.7 L132.0,401.2 L136.1,374.8 L139.2,368.7 L141.2,397.2 L144.3,413.5 L146.3,384.0 L149.3,399.2 L150.4,431.8 L152.0,465.4 L154.4,452.1 L155.9,431.8 L157.5,357.5 L160.5,356.5 L162.6,429.7 L167.3,479.6 L169.7,444.0 L172.8,424.6 L174.8,431.8 L176.8,444.0 L179.9,437.9 L182.9,407.3 L186.0,392.0 L189.0,375.8 L191.0,399.2 L193.1,427.7 L197.2,413.5 L200.2,423.6 L205.3,427.7 L208.4,418.5 L209.7,420.0 L210.9,431.7 L212.0,440.2 L214.3,448.0 L216.7,444.9 L219.0,441.8 L220.6,446.5 L222.9,457.4 L225.2,469.8 L228.0,496.3 L229.9,476.0 L232.2,449.6 L234.6,451.1 L237.4,463.6 L239.2,448.0 L240.5,434.0 L241.7,428.6 L243.1,432.5 L245.2,465.1 L247.3,469.8 L249.4,493.2 L250.9,469.8 L252.9,482.3 L254.5,463.6 L257.1,482.3 L258.7,488.5 L261.4,546.1 L262.9,529.0 L264.9,497.8 L267.3,476.0 L269.6,466.7 L271.2,471.4 L273.5,452.7 L276.6,443.3 L278.9,449.6 L281.3,435.6 L283.6,437.1 L285.9,457.4 L288.3,451.1 L290.0,455.8 L291.2,460.2 L293.6,471.7 L295.1,462.2 L297.0,444.9 L299.9,440.1 L302.2,443.0 L305.1,443.0 L307.5,451.6 L309.4,461.2 L311.4,450.7 L313.3,437.2 L316.6,432.5 L318.5,436.3 L320.5,429.6 L323.3,425.3 L325.2,429.6 L327.2,432.5 L328.9,430.1 L330.5,432.5 L331.5,448.7 L332.9,454.5 L334.4,472.7 L336.7,488.0 L338.7,478.5 L340.6,460.2 L341.5,441.1 L343.5,441.1 L345.4,444.0 L348.2,438.2 L351.1,436.3 L353.0,439.2 L355.0,431.7 L356.4,424.8 L361.5,355.8 L364.2,374.3 L365.5,442.8 L369.4,419.0 L374.7,387.4 L380.0,419.0 L383.9,413.8 L387.9,434.9 L390.5,446.7 L392.9,442.2 L394.8,428.8 L396.7,413.4 L399.6,408.7 L402.5,419.2 L405.3,426.9 L408.2,424.0 L412.0,419.2 L416.8,420.2 L420.7,414.4 L424.5,422.0 L427.4,417.3 L430.2,405.8 L433.1,384.7 L436.0,363.6 L437.9,351.2 L439.4,361.7 L441.7,415.4 L444.6,412.5 L449.4,417.3 L452.3,430.7 L455.1,440.3 L459.0,426.9 L466.6,419.2 L472.4,425.9 L478.1,417.3 L483.9,406.7 L487.7,413.4 L491.5,404.8 L494.4,400.0 L498.2,410.6 L501.1,390.5 L504.4,361.7 L506.9,379.0 L508.8,428.8 L512.6,407.7 L517.4,398.1 L520.3,403.9 L525.0,380.0 L527.9,388.5 L532.7,421.1 L536.6,399.0 L541.3,405.8 L547.1,352.1 L550.0,359.8 L552.8,321.5 L556.7,359.8 L558.6,326.3 L560.5,344.5 L563.4,380.9 L565.0,388.4 L567.6,393.7 L570.3,409.5 L572.9,330.5 L575.0,291.0 L576.8,243.7 L578.2,283.0 L580.8,291.0 L583.4,338.4 L587.4,346.3 L591.3,420.0 L594.0,412.0 L597.9,375.3 L601.8,335.8 L604.5,356.8 L607.1,351.6 L609.2,305.5 L611.0,325.3 L613.7,317.4 L615.0,304.2 L617.6,270.0 L620.3,254.2 L622.1,227.9 L623.4,267.4 L625.5,325.3 L627.5,352.5 L630.0,360.0 L632.9,431.5 L634.3,437.5 L636.5,451.9 L637.9,472.0 L639.8,493.6 L641.5,454.8 L642.9,431.5 L643.7,391.5 L645.5,387.2 L647.3,394.4 L648.7,423.1 L650.1,431.5 L651.6,462.0 L653.0,447.6 L655.2,460.5 L658.0,473.5 L660.2,447.6 L662.8,431.5 L664.5,413.1 L666.7,409.5 L668.8,418.8 L671.7,415.9 L673.9,423.1 L675.7,431.5 L677.4,444.7 L681.0,456.2 L683.9,463.4 L686.8,473.5 L690.4,460.5 L693.3,437.5 L696.1,419.5 L698.3,424.6 L699.7,431.5 L701.9,454.8 L704.8,441.8 L707.6,424.6 L709.8,427.4 L711.2,431.5 L713.4,447.6 L716.3,441.8 L720.6,439.0 L724.9,454.8 L729.2,449.0 L731.8,441.5 L732.7,457.7 L734.5,463.1 L736.3,520.5 L737.2,557.3 L738.1,524.1 L739.9,502.6 L741.7,513.3 L743.5,556.4 L745.3,488.2 L747.1,473.9 L749.7,463.1 L752.4,484.6 L754.2,463.1 L756.9,479.2 L758.7,454.1 L761.4,466.7 L764.1,455.9 L765.9,452.3 L768.6,443.3 L773.1,441.5 L776.7,438.0 L779.4,431.7 L781.8,416.6 L785.6,420.4 L787.5,428.1 L790.4,433.8 L792.3,405.0 L794.8,375.3 L797.1,378.2 L799.0,385.9 L801.9,399.3 L803.8,420.4 L806.7,397.4 L810.5,361.9 L813.4,374.4 L815.3,399.3 L818.2,414.6 L820.1,393.5 L823.0,385.9 L825.9,405.0 L828.8,422.3 L831.6,412.7 L834.5,407.9 L837.2,410.2 L838.9,431.7 L840.4,442.5 L842.5,453.3 L844.7,431.7 L846.9,430.6 L849.0,436.0 L851.2,423.1 L853.3,422.0 L855.5,433.9 L857.6,436.0 L861.9,455.4 L865.2,444.7 L870.6,440.3 L873.8,431.7 L877.0,418.8 L881.3,420.9 L885.6,404.8 L888.9,408.0 L892.1,429.6 L893.2,431.7 L895.8,466.2 L897.5,550.3 L899.2,509.3 L900.7,451.1 L904.0,440.3 L908.3,442.5 L910.4,431.7 L912.6,408.0 L915.8,390.8 L919.0,408.0 L922.3,423.1 L925.5,418.8 L929.8,422.0 L933.1,419.9 L938.4,426.3 L941.7,423.1 L946.0,392.9 L949.2,401.6 L952.5,414.5 L957.8,429.6 L962.0,423.3 L966.8,420.9 L971.6,404.0 L975.1,376.6 L978.7,375.4 L980.7,382.5 L983.0,369.4 L985.9,375.4 L988.3,388.5 L990.7,373.0 L992.6,346.6 L995.0,320.3 L997.4,303.5 L999.1,284.4 L1000.8,313.1 L1003.2,382.5 L1005.6,396.9 L1008.7,361.0 L1011.8,344.2 L1013.5,334.7 L1015.1,346.6 L1017.5,377.8 L1019.4,393.3 L1021.8,380.2 L1025.4,392.1 L1027.8,385.0 L1031.4,371.8 L1033.8,385.0 L1036.1,408.0 L1037.8,397.7 L1039.0,393.2 L1040.5,402.3 L1041.8,431.5 L1043.0,450.1 L1044.7,463.1 L1046.4,438.7 L1048.1,443.2 L1049.8,433.6 L1052.1,436.4 L1054.3,453.5 L1056.0,459.2 L1057.7,453.5 L1060.0,438.7 L1062.9,433.0 L1064.8,431.5 L1065.7,398.9 L1068.6,393.8 L1069.7,402.3 L1070.8,417.1 L1074.8,408.6 L1078.2,411.4 L1080.5,418.2 L1084.5,427.3 L1086.2,420.5 L1088.5,403.4 L1092.4,393.2 L1095.9,390.4 L1098.7,401.7 L1101.5,386.4 L1103.2,392.1 L1105.5,406.8 L1107.8,420.5 L1110.1,427.3 L1111.2,434.1 L1112.9,439.8 L1115.8,429.6 L1119.2,430.7 L1120.3,439.8 L1124.9,450.1 L1127.7,460.3 L1130.0,431.5 L1132.8,417.7 L1135.1,425.0 L1136.8,437.0 L1138.5,431.5 L1141.3,426.8 L1143.1,432.4 L1146.5,413.7 L1148.7,411.4 L1150.4,418.2 L1152.2,431.5 L1153.4,429.2 L1155.0,433.4 L1156.7,431.7 L1158.4,435.1 L1160.1,445.1 L1161.4,461.9 L1162.6,482.9 L1164.3,477.0 L1165.9,458.6 L1167.6,446.8 L1170.1,451.0 L1172.6,458.6 L1174.3,537.4 L1175.5,555.8 L1177.7,520.6 L1178.8,490.4 L1180.2,466.9 L1182.7,475.3 L1184.4,463.6 L1186.9,458.6 L1189.4,445.1 L1191.9,436.8 L1194.4,438.4 L1196.9,445.1 L1199.5,451.0 L1202.8,448.5 L1205.3,453.5 L1207.8,456.9 L1210.4,446.8 L1214.5,445.1 L1217.9,440.1 L1219.6,434.3 L1221.8,431.7 L1223.8,466.9 L1226.3,515.6 L1227.5,551.6 L1228.8,520.6 L1230.5,478.7 L1231.0,431.7" fill="none" stroke="rgba(200,100,85,0.85)" stroke-width="1.5" stroke-linejoin="round" clip-path="url(#pos)"/>
<path d="M73.0,431.8 L73.6,475.5 L76.0,444.0 L78.1,425.7 L79.7,427.7 L81.2,440.0 L83.2,411.4 L86.2,406.3 L88.7,415.5 L94.0,391.0 L96.4,393.0 L98.5,400.2 L100.5,399.2 L104.2,419.6 L107.6,409.4 L109.7,380.9 L110.5,312.7 L112.9,314.2 L115.0,335.0 L116.5,317.0 L118.6,284.0 L119.5,257.0 L122.5,197.0 L124.0,140.0 L125.5,105.5 L126.4,191.0 L127.0,257.0 L128.5,329.0 L130.0,372.7 L132.0,401.2 L136.1,374.8 L139.2,368.7 L141.2,397.2 L144.3,413.5 L146.3,384.0 L149.3,399.2 L150.4,431.8 L152.0,465.4 L154.4,452.1 L155.9,431.8 L157.5,357.5 L160.5,356.5 L162.6,429.7 L167.3,479.6 L169.7,444.0 L172.8,424.6 L174.8,431.8 L176.8,444.0 L179.9,437.9 L182.9,407.3 L186.0,392.0 L189.0,375.8 L191.0,399.2 L193.1,427.7 L197.2,413.5 L200.2,423.6 L205.3,427.7 L208.4,418.5 L209.7,420.0 L210.9,431.7 L212.0,440.2 L214.3,448.0 L216.7,444.9 L219.0,441.8 L220.6,446.5 L222.9,457.4 L225.2,469.8 L228.0,496.3 L229.9,476.0 L232.2,449.6 L234.6,451.1 L237.4,463.6 L239.2,448.0 L240.5,434.0 L241.7,428.6 L243.1,432.5 L245.2,465.1 L247.3,469.8 L249.4,493.2 L250.9,469.8 L252.9,482.3 L254.5,463.6 L257.1,482.3 L258.7,488.5 L261.4,546.1 L262.9,529.0 L264.9,497.8 L267.3,476.0 L269.6,466.7 L271.2,471.4 L273.5,452.7 L276.6,443.3 L278.9,449.6 L281.3,435.6 L283.6,437.1 L285.9,457.4 L288.3,451.1 L290.0,455.8 L291.2,460.2 L293.6,471.7 L295.1,462.2 L297.0,444.9 L299.9,440.1 L302.2,443.0 L305.1,443.0 L307.5,451.6 L309.4,461.2 L311.4,450.7 L313.3,437.2 L316.6,432.5 L318.5,436.3 L320.5,429.6 L323.3,425.3 L325.2,429.6 L327.2,432.5 L328.9,430.1 L330.5,432.5 L331.5,448.7 L332.9,454.5 L334.4,472.7 L336.7,488.0 L338.7,478.5 L340.6,460.2 L341.5,441.1 L343.5,441.1 L345.4,444.0 L348.2,438.2 L351.1,436.3 L353.0,439.2 L355.0,431.7 L356.4,424.8 L361.5,355.8 L364.2,374.3 L365.5,442.8 L369.4,419.0 L374.7,387.4 L380.0,419.0 L383.9,413.8 L387.9,434.9 L390.5,446.7 L392.9,442.2 L394.8,428.8 L396.7,413.4 L399.6,408.7 L402.5,419.2 L405.3,426.9 L408.2,424.0 L412.0,419.2 L416.8,420.2 L420.7,414.4 L424.5,422.0 L427.4,417.3 L430.2,405.8 L433.1,384.7 L436.0,363.6 L437.9,351.2 L439.4,361.7 L441.7,415.4 L444.6,412.5 L449.4,417.3 L452.3,430.7 L455.1,440.3 L459.0,426.9 L466.6,419.2 L472.4,425.9 L478.1,417.3 L483.9,406.7 L487.7,413.4 L491.5,404.8 L494.4,400.0 L498.2,410.6 L501.1,390.5 L504.4,361.7 L506.9,379.0 L508.8,428.8 L512.6,407.7 L517.4,398.1 L520.3,403.9 L525.0,380.0 L527.9,388.5 L532.7,421.1 L536.6,399.0 L541.3,405.8 L547.1,352.1 L550.0,359.8 L552.8,321.5 L556.7,359.8 L558.6,326.3 L560.5,344.5 L563.4,380.9 L565.0,388.4 L567.6,393.7 L570.3,409.5 L572.9,330.5 L575.0,291.0 L576.8,243.7 L578.2,283.0 L580.8,291.0 L583.4,338.4 L587.4,346.3 L591.3,420.0 L594.0,412.0 L597.9,375.3 L601.8,335.8 L604.5,356.8 L607.1,351.6 L609.2,305.5 L611.0,325.3 L613.7,317.4 L615.0,304.2 L617.6,270.0 L620.3,254.2 L622.1,227.9 L623.4,267.4 L625.5,325.3 L627.5,352.5 L630.0,360.0 L632.9,431.5 L634.3,437.5 L636.5,451.9 L637.9,472.0 L639.8,493.6 L641.5,454.8 L642.9,431.5 L643.7,391.5 L645.5,387.2 L647.3,394.4 L648.7,423.1 L650.1,431.5 L651.6,462.0 L653.0,447.6 L655.2,460.5 L658.0,473.5 L660.2,447.6 L662.8,431.5 L664.5,413.1 L666.7,409.5 L668.8,418.8 L671.7,415.9 L673.9,423.1 L675.7,431.5 L677.4,444.7 L681.0,456.2 L683.9,463.4 L686.8,473.5 L690.4,460.5 L693.3,437.5 L696.1,419.5 L698.3,424.6 L699.7,431.5 L701.9,454.8 L704.8,441.8 L707.6,424.6 L709.8,427.4 L711.2,431.5 L713.4,447.6 L716.3,441.8 L720.6,439.0 L724.9,454.8 L729.2,449.0 L731.8,441.5 L732.7,457.7 L734.5,463.1 L736.3,520.5 L737.2,557.3 L738.1,524.1 L739.9,502.6 L741.7,513.3 L743.5,556.4 L745.3,488.2 L747.1,473.9 L749.7,463.1 L752.4,484.6 L754.2,463.1 L756.9,479.2 L758.7,454.1 L761.4,466.7 L764.1,455.9 L765.9,452.3 L768.6,443.3 L773.1,441.5 L776.7,438.0 L779.4,431.7 L781.8,416.6 L785.6,420.4 L787.5,428.1 L790.4,433.8 L792.3,405.0 L794.8,375.3 L797.1,378.2 L799.0,385.9 L801.9,399.3 L803.8,420.4 L806.7,397.4 L810.5,361.9 L813.4,374.4 L815.3,399.3 L818.2,414.6 L820.1,393.5 L823.0,385.9 L825.9,405.0 L828.8,422.3 L831.6,412.7 L834.5,407.9 L837.2,410.2 L838.9,431.7 L840.4,442.5 L842.5,453.3 L844.7,431.7 L846.9,430.6 L849.0,436.0 L851.2,423.1 L853.3,422.0 L855.5,433.9 L857.6,436.0 L861.9,455.4 L865.2,444.7 L870.6,440.3 L873.8,431.7 L877.0,418.8 L881.3,420.9 L885.6,404.8 L888.9,408.0 L892.1,429.6 L893.2,431.7 L895.8,466.2 L897.5,550.3 L899.2,509.3 L900.7,451.1 L904.0,440.3 L908.3,442.5 L910.4,431.7 L912.6,408.0 L915.8,390.8 L919.0,408.0 L922.3,423.1 L925.5,418.8 L929.8,422.0 L933.1,419.9 L938.4,426.3 L941.7,423.1 L946.0,392.9 L949.2,401.6 L952.5,414.5 L957.8,429.6 L962.0,423.3 L966.8,420.9 L971.6,404.0 L975.1,376.6 L978.7,375.4 L980.7,382.5 L983.0,369.4 L985.9,375.4 L988.3,388.5 L990.7,373.0 L992.6,346.6 L995.0,320.3 L997.4,303.5 L999.1,284.4 L1000.8,313.1 L1003.2,382.5 L1005.6,396.9 L1008.7,361.0 L1011.8,344.2 L1013.5,334.7 L1015.1,346.6 L1017.5,377.8 L1019.4,393.3 L1021.8,380.2 L1025.4,392.1 L1027.8,385.0 L1031.4,371.8 L1033.8,385.0 L1036.1,408.0 L1037.8,397.7 L1039.0,393.2 L1040.5,402.3 L1041.8,431.5 L1043.0,450.1 L1044.7,463.1 L1046.4,438.7 L1048.1,443.2 L1049.8,433.6 L1052.1,436.4 L1054.3,453.5 L1056.0,459.2 L1057.7,453.5 L1060.0,438.7 L1062.9,433.0 L1064.8,431.5 L1065.7,398.9 L1068.6,393.8 L1069.7,402.3 L1070.8,417.1 L1074.8,408.6 L1078.2,411.4 L1080.5,418.2 L1084.5,427.3 L1086.2,420.5 L1088.5,403.4 L1092.4,393.2 L1095.9,390.4 L1098.7,401.7 L1101.5,386.4 L1103.2,392.1 L1105.5,406.8 L1107.8,420.5 L1110.1,427.3 L1111.2,434.1 L1112.9,439.8 L1115.8,429.6 L1119.2,430.7 L1120.3,439.8 L1124.9,450.1 L1127.7,460.3 L1130.0,431.5 L1132.8,417.7 L1135.1,425.0 L1136.8,437.0 L1138.5,431.5 L1141.3,426.8 L1143.1,432.4 L1146.5,413.7 L1148.7,411.4 L1150.4,418.2 L1152.2,431.5 L1153.4,429.2 L1155.0,433.4 L1156.7,431.7 L1158.4,435.1 L1160.1,445.1 L1161.4,461.9 L1162.6,482.9 L1164.3,477.0 L1165.9,458.6 L1167.6,446.8 L1170.1,451.0 L1172.6,458.6 L1174.3,537.4 L1175.5,555.8 L1177.7,520.6 L1178.8,490.4 L1180.2,466.9 L1182.7,475.3 L1184.4,463.6 L1186.9,458.6 L1189.4,445.1 L1191.9,436.8 L1194.4,438.4 L1196.9,445.1 L1199.5,451.0 L1202.8,448.5 L1205.3,453.5 L1207.8,456.9 L1210.4,446.8 L1214.5,445.1 L1217.9,440.1 L1219.6,434.3 L1221.8,431.7 L1223.8,466.9 L1226.3,515.6 L1227.5,551.6 L1228.8,520.6 L1230.5,478.7 L1231.0,431.7" fill="none" stroke="rgba(220,95,95,0.35)" stroke-width="1" stroke-linejoin="round" clip-path="url(#neg)"/>
<g font-family="Liberation Sans" font-size="15.2" fill="#111" stroke="#111" stroke-width="0.2">
<text x="64.6" y="123.9" text-anchor="end">$100,000</text>
<text x="64.6" y="189.9" text-anchor="end">$50,000</text>
<text x="64.6" y="276.9" text-anchor="end">$20,000</text>
<text x="64.6" y="343.9" text-anchor="end">$10,000</text>
<text x="64.6" y="409.9" text-anchor="end">$5,000</text>
<text x="64.6" y="496.9" text-anchor="end">$2,000</text>
<text x="64.6" y="563.9" text-anchor="end">$1,000</text>
<text x="64.6" y="629.9" text-anchor="end">$500</text>
<text x="64.6" y="716.9" text-anchor="end">$200</text>
<text x="64.6" y="774.7" text-anchor="end">$100</text>
</g>
<g font-family="Liberation Sans" font-size="15" fill="#111" stroke="#111" stroke-width="0.2">
<text x="1248.5" y="101.0">0.010</text>
<text x="1248.5" y="161.4">0.008</text>
<text x="1248.5" y="230.6">0.006</text>
<text x="1248.5" y="300.1">0.004</text>
<text x="1248.5" y="369.3">0.002</text>
<text x="1248.5" y="438.1">0.000</text>
<text x="1248.5" y="507.4">-0.002</text>
<text x="1248.5" y="576.5">-0.004</text>
<text x="1248.5" y="645.8">-0.006</text>
<text x="1248.5" y="715.0">-0.008</text>
<text x="1248.5" y="775.1">-0.010</text>
</g>
<g font-family="Liberation Sans" font-size="15.5" fill="#111" stroke="#111" stroke-width="0.4">
<text x="133.6" y="799.8" text-anchor="middle">2014</text>
<text x="256.3" y="799.8" text-anchor="middle">2015</text>
<text x="379" y="799.8" text-anchor="middle">2016</text>
<text x="502.6" y="799.8" text-anchor="middle">2017</text>
<text x="625.6" y="799.8" text-anchor="middle">2018</text>
<text x="748.6" y="799.8" text-anchor="middle">2019</text>
<text x="871.7" y="799.8" text-anchor="middle">2020</text>
<text x="995.3" y="799.8" text-anchor="middle">2021</text>
<text x="1118.4" y="799.8" text-anchor="middle">2022</text>
<text x="1220.8" y="799.8" text-anchor="middle">2023</text>
</g>
<text x="17" y="825.8" font-family="Liberation Sans" font-style="italic" font-size="17.5" fill="#111" textLength="147.5" lengthAdjust="spacingAndGlyphs">Source: Glassnode</text>
</svg>
</body></html>
